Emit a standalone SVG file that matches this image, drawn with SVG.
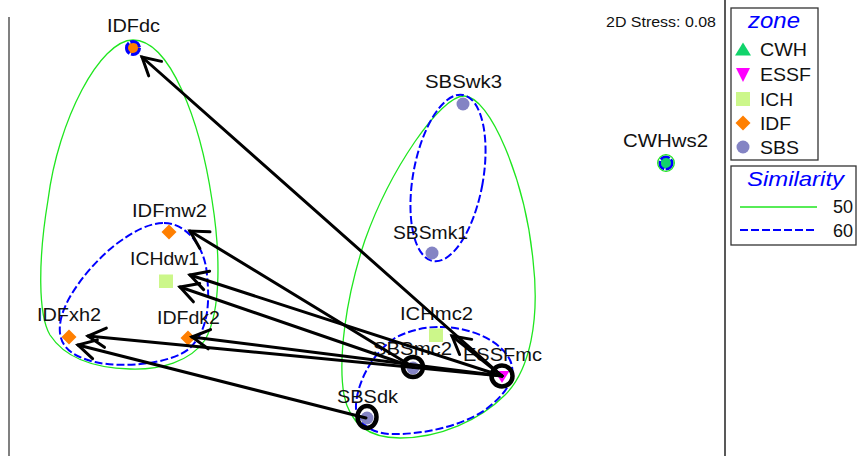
<svg xmlns="http://www.w3.org/2000/svg" width="857" height="456" viewBox="0 0 857 456">
<style>
text{font-family:"Liberation Sans",Arial,sans-serif;fill:#111}
.lbl{font-size:18px}
.g50{fill:none;stroke:#1FE61F;stroke-width:1.3}
.b60{fill:none;stroke:#0000FF;stroke-width:2;stroke-dasharray:8 3}
.arr{stroke:#000;stroke-width:3;stroke-linecap:round;fill:none;marker-end:url(#ah)}
.ring{fill:none;stroke:#000;stroke-width:4.5}
.sbs{fill:#8484C4}
.ich{fill:#CCF78A}
.idf{fill:#FF7F00}
.essf{fill:#FF00FF}
.cwh{fill:#11D46B}
</style>
<defs>
<marker id="ah" markerUnits="userSpaceOnUse" viewBox="-24 -14 28 28" markerWidth="28" markerHeight="28" refX="0" refY="0" orient="auto" overflow="visible">
<path d="M-17.5,-9.7 L0,0 L-17.5,9.7" fill="none" stroke="#000" stroke-width="3" stroke-linecap="round" stroke-linejoin="miter"/>
</marker>
</defs>
<rect width="857" height="456" fill="#fff"/>
<g id="frame">
<line x1="9" y1="17" x2="9" y2="456" stroke="#808080" stroke-width="2"/>
<line x1="725" y1="0" x2="725" y2="456" stroke="#222" stroke-width="1.5"/>
<text x="606" y="27" font-size="14" textLength="110" lengthAdjust="spacingAndGlyphs">2D Stress: 0.08</text>
</g>
<g id="hulls">
<path class="g50" d="M133,40 C170,40 200,120 212,200 C220,250 222,310 205,340 C190,362 160,370 130,369 C95,368 65,358 50,335 C38,315 38,260 48,200 C58,120 100,40 133,40 Z"/>
<path class="g50" d="M464,96 C490,96 525,180 533,260 C540,320 530,370 505,395 C480,420 440,438 400,438 C370,438 350,425 344,395 C338,360 345,300 365,240 C390,170 440,96 464,96 Z"/>
<path class="b60" d="M164,223 C185,223 205,245 207,275 C210,305 208,330 190,348 C170,365 120,368 95,362 C70,356 58,345 60,325 C62,300 90,265 115,245 C135,230 150,223 164,223 Z"/>
<ellipse class="b60" cx="448" cy="178" rx="35" ry="84.4" transform="rotate(10.2 448 178)"/>
<path class="b60" d="M440,327 C470,327 500,340 510,360 C518,378 505,395 485,410 C460,427 420,435 390,434 C368,433 355,420 356,405 C357,385 370,355 395,338 C410,330 425,327 440,327 Z"/>
</g>
<g id="IDFdc">
<polygon class="idf" points="133,40.5 140.5,48 133,55.5 125.5,48"/>
<circle cx="133" cy="48" r="6.5" fill="none" stroke="#0000FF" stroke-width="3" stroke-dasharray="12 1.5"/>
<text class="lbl" x="107" y="32" textLength="53" lengthAdjust="spacingAndGlyphs">IDFdc</text>
</g>
<g id="SBSwk3">
<circle class="sbs" cx="463" cy="104" r="6.5"/>
<text class="lbl" x="425" y="88" textLength="77" lengthAdjust="spacingAndGlyphs">SBSwk3</text>
</g>
<g id="SBSmk1">
<circle class="sbs" cx="432" cy="253" r="6.5"/>
<text class="lbl" x="393" y="239" textLength="75" lengthAdjust="spacingAndGlyphs">SBSmk1</text>
</g>
<g id="CWHws2">
<circle class="cwh" cx="666" cy="163" r="5.5"/>
<circle cx="666" cy="163" r="6.3" fill="none" stroke="#0000FF" stroke-width="2.5" stroke-dasharray="10 1.5"/>
<circle cx="666" cy="163" r="8.3" fill="none" stroke="#1FE61F" stroke-width="1.3"/>
<text class="lbl" x="623" y="147" textLength="85" lengthAdjust="spacingAndGlyphs">CWHws2</text>
</g>
<g id="IDFmw2">
<polygon class="idf" points="169,224.5 176.5,232 169,239.5 161.5,232"/>
<text class="lbl" x="132" y="217" textLength="75" lengthAdjust="spacingAndGlyphs">IDFmw2</text>
</g>
<g id="ICHdw1">
<rect class="ich" x="159" y="274.5" width="14" height="13.5"/>
<text class="lbl" x="130" y="265" textLength="69" lengthAdjust="spacingAndGlyphs">ICHdw1</text>
</g>
<g id="IDFxh2">
<polygon class="idf" points="69,329.5 76.5,337 69,344.5 61.5,337"/>
<text class="lbl" x="37" y="321" textLength="64" lengthAdjust="spacingAndGlyphs">IDFxh2</text>
</g>
<g id="IDFdk2">
<polygon class="idf" points="188,330.5 195.5,338 188,345.5 180.5,338"/>
<text class="lbl" x="157" y="324" textLength="63" lengthAdjust="spacingAndGlyphs">IDFdk2</text>
</g>
<g id="ICHmc2">
<rect class="ich" x="429" y="328.5" width="14" height="13.5"/>
<text class="lbl" x="400" y="320" textLength="73" lengthAdjust="spacingAndGlyphs">ICHmc2</text>
</g>
<g id="SBSmc2">
<circle class="sbs" cx="413" cy="368" r="6.5"/>
<text class="lbl" x="373" y="355" textLength="79" lengthAdjust="spacingAndGlyphs">SBSmc2</text>
</g>
<g id="ESSFmc">
<polygon class="essf" points="494.5,371 509.5,371 502,383"/>
<text class="lbl" x="463" y="361" textLength="79" lengthAdjust="spacingAndGlyphs">ESSFmc</text>
</g>
<g id="SBSdk">
<circle class="sbs" cx="367" cy="418" r="6.5"/>
<text class="lbl" x="337" y="403" textLength="61" lengthAdjust="spacingAndGlyphs">SBSdk</text>
</g>
<g id="connectors">
<line class="arr" x1="502" y1="376" x2="142" y2="57"/>
<line class="arr" x1="413" y1="367" x2="190" y2="231"/>
<line class="arr" x1="502" y1="376" x2="190" y2="275"/>
<line class="arr" x1="413" y1="367" x2="180" y2="287"/>
<line class="arr" x1="502" y1="376" x2="192" y2="337"/>
<line class="arr" x1="502" y1="376" x2="88" y2="336"/>
<line class="arr" x1="366" y1="418" x2="78" y2="345"/>
<line class="arr" x1="502" y1="376" x2="452" y2="336"/>
</g>
<g id="rings">
<circle class="ring" cx="413" cy="367" r="10"/>
<circle class="ring" cx="502" cy="376" r="10.5"/>
<ellipse class="ring" cx="367" cy="417" rx="9.5" ry="11"/>
</g>
<g id="legend-zone">
<rect x="731" y="8" width="87" height="152" fill="#fff" stroke="#333" stroke-width="1.3"/>
<text x="748" y="28" font-size="22" font-style="italic" style="fill:#0000FF" textLength="52" lengthAdjust="spacingAndGlyphs">zone</text>
<polygon class="cwh" points="743,42.5 751,55.5 735,55.5"/>
<text class="lbl" x="760" y="56" textLength="47" lengthAdjust="spacingAndGlyphs">CWH</text>
<polygon class="essf" points="736,68 750,68 743,82"/>
<text class="lbl" x="760" y="81" textLength="51" lengthAdjust="spacingAndGlyphs">ESSF</text>
<rect class="ich" x="736" y="92" width="14" height="14"/>
<text class="lbl" x="760" y="106" textLength="33" lengthAdjust="spacingAndGlyphs">ICH</text>
<polygon class="idf" points="743,115.5 750.5,123 743,130.5 735.5,123"/>
<text class="lbl" x="760" y="130" textLength="31" lengthAdjust="spacingAndGlyphs">IDF</text>
<circle class="sbs" cx="743" cy="147" r="6.5"/>
<text class="lbl" x="760" y="154" textLength="39" lengthAdjust="spacingAndGlyphs">SBS</text>
</g>
<g id="legend-similarity">
<rect x="731" y="166" width="125" height="79" fill="#fff" stroke="#333" stroke-width="1.3"/>
<text x="747" y="186" font-size="21" font-style="italic" style="fill:#0000FF" textLength="97" lengthAdjust="spacingAndGlyphs">Similarity</text>
<line class="g50" x1="740" y1="207" x2="817" y2="207"/>
<text class="lbl" x="853" y="213" text-anchor="end">50</text>
<line class="b60" x1="740" y1="230" x2="817" y2="230"/>
<text class="lbl" x="853" y="237" text-anchor="end">60</text>
</g>
</svg>
